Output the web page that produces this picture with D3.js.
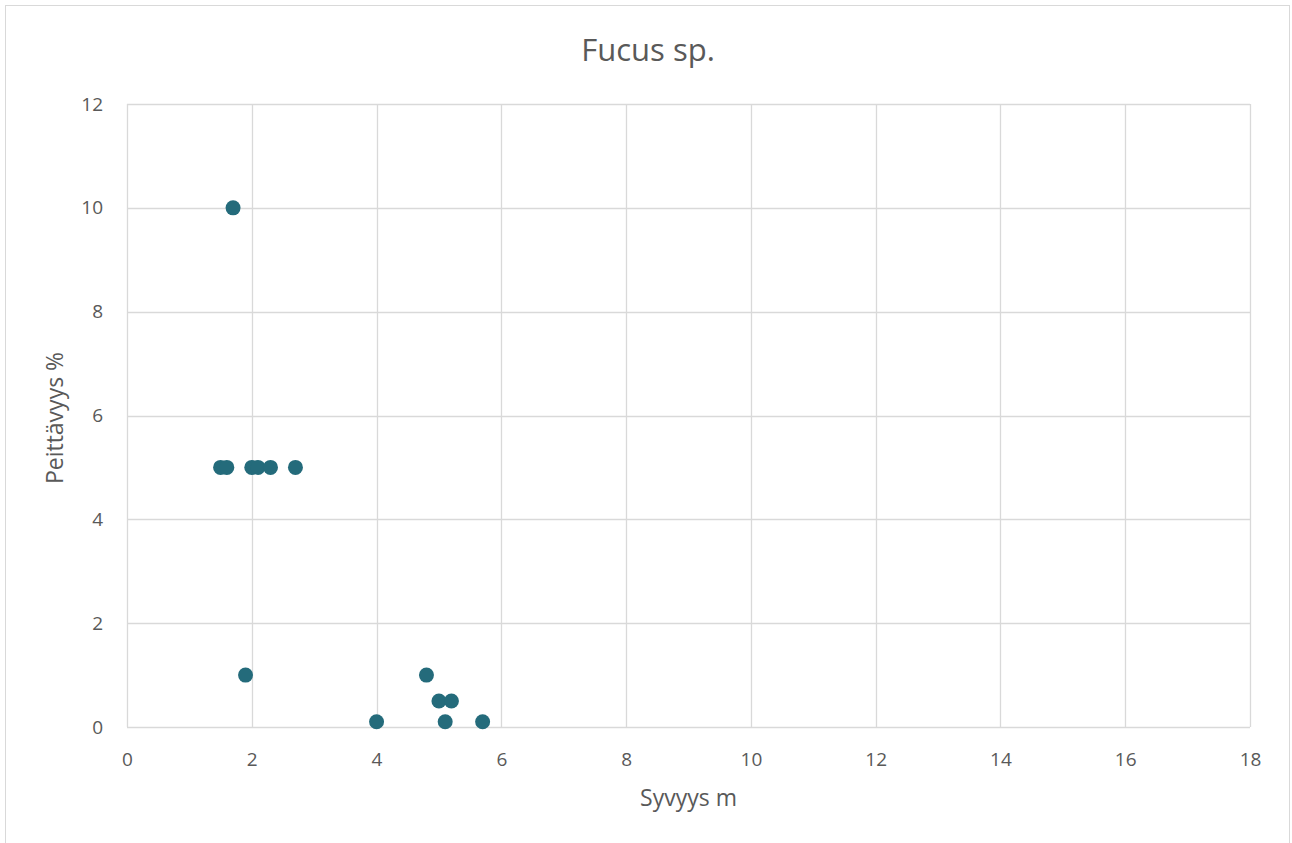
<!DOCTYPE html>
<html><head><meta charset="utf-8">
<script src="https://cdn.jsdelivr.net/npm/d3@7"></script>
<style>html,body{margin:0;padding:0;background:#fff;}svg{display:block;}</style>
</head><body>
<svg id="c" width="1292" height="843"></svg>
<script>
const depth = [1.7, 1.5, 1.6, 2.0, 2.1, 2.3, 2.7, 1.9, 4.0, 4.8, 5.0, 5.2, 5.1, 5.7];
const cover = [10, 5, 5, 5, 5, 5, 5, 1, 0.1, 1, 0.5, 0.5, 0.1, 0.1];
const xTicks = [0, 2, 4, 6, 8, 10, 12, 14, 16, 18];
const yTicks = [0, 2, 4, 6, 8, 10, 12];
const title = "Fucus sp.";
const xTitle = "Syvyys m";
const yTitle = "Peittävyys %";

const svg = d3.select("#c");
const font = "'Open Sans', sans-serif";
svg.append("rect").attr("x",5.5).attr("y",5.5).attr("width",1284).attr("height",845)
  .attr("fill","#fff").attr("stroke","#d9d9d9").attr("stroke-width",1);

const L=127, R=1250, T=104, B=727;
const x = d3.scaleLinear().domain([0,18]).range([L,R]);
const y = d3.scaleLinear().domain([0,12]).range([B,T]);

const g = svg.append("g");
g.selectAll("line.vx").data(xTicks).join("line")
  .attr("x1",d=>Math.round(x(d))+0.5).attr("x2",d=>Math.round(x(d))+0.5)
  .attr("y1",T).attr("y2",B).attr("stroke","#d9d9d9").attr("stroke-width",1.3);
g.selectAll("line.hy").data(yTicks).join("line")
  .attr("y1",d=>Math.round(y(d))+0.5).attr("y2",d=>Math.round(y(d))+0.5)
  .attr("x1",L).attr("x2",R).attr("stroke","#d9d9d9").attr("stroke-width",1.3);

const xa = d3.axisBottom(x).tickValues(xTicks).tickSize(0).tickPadding(0);
svg.append("g").attr("transform",`translate(0,${B})`).call(xa)
  .call(s=>s.select(".domain").remove())
  .selectAll("text").attr("y",39).attr("dy",null).attr("fill","#595959")
  .style("font-family",font).style("font-size","19px");
const ya = d3.axisLeft(y).tickValues(yTicks).tickSize(0).tickPadding(24);
svg.append("g").attr("transform",`translate(${L},0)`).call(ya)
  .call(s=>s.select(".domain").remove())
  .selectAll("text").attr("fill","#595959").style("font-family",font).style("font-size","19px");

svg.append("g").selectAll("circle").data(depth.map((d,i)=>[d,cover[i]])).join("circle")
  .attr("cx",d=>x(d[0])).attr("cy",d=>y(d[1])).attr("r",7.5).attr("fill","#246b7b");

svg.append("text").attr("x",648).attr("y",61).attr("text-anchor","middle")
  .attr("fill","#595959").style("font-family",font).style("font-size","31px").text(title);
svg.append("text").attr("x",(L+R)/2).attr("y",806).attr("text-anchor","middle")
  .attr("fill","#595959").style("font-family",font).style("font-size","23px").text(xTitle);
svg.append("text").attr("transform",`translate(63,418) rotate(-90)`).attr("text-anchor","middle")
  .attr("fill","#595959").style("font-family",font).style("font-size","23px").text(yTitle);
</script>
</body></html>
